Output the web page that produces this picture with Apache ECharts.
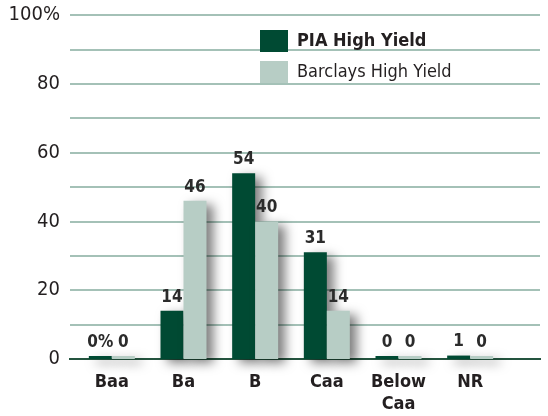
<!DOCTYPE html>
<html><head><meta charset="utf-8">
<script src="https://cdn.jsdelivr.net/npm/echarts@6/dist/echarts.min.js"></script>
<style>html,body{margin:0;padding:0;background:#fff}#c{width:548px;height:416px}</style>
</head><body><div id="c"></div>
<script>
const categories = ['Baa', 'Ba', 'B', 'Caa', 'Below\nCaa', 'NR'];
const piaValues = [0, 14, 54, 31, 0, 1];
const barclaysValues = [0, 46, 40, 14, 0, 0];
const yTicks = [0, 20, 40, 60, 80, 100];
const seriesNames = ['PIA High Yield', 'Barclays High Yield'];

const FONT = '"DejaVu Sans Condensed", "DejaVu Sans", sans-serif';
const chart = echarts.init(document.getElementById('c'));
const labelStyle = {
  show: true, position: 'top', distance: 5, fontFamily: FONT, fontWeight: 'bold',
  fontSize: 17, color: '#2b2b2b'
};
const shadow = { shadowColor: 'rgba(0,0,0,0.5)', shadowBlur: 11, shadowOffsetX: 7, shadowOffsetY: 4 };
chart.setOption({
  animation: false,
  grid: [
    { left: 70, right: 8, top: 15, bottom: 57 },
    { left: 76, right: 42, top: 15, bottom: 57 }
  ],
  legend: {
    orient: 'vertical', left: 255, top: 25, itemWidth: 28, itemHeight: 22, itemGap: 9,
    icon: 'rect', data: seriesNames,
    textStyle: { fontFamily: FONT, fontSize: 18, color: '#231f20', padding: [0, 0, 0, 4],
      rich: { b: { fontFamily: FONT, fontSize: 18, fontWeight: 'bold', color: '#231f20' } } },
    formatter: n => n === seriesNames[0] ? '{b|' + n + '}' : n
  },
  xAxis: [
    { type: 'value', gridIndex: 0, show: false, min: 0, max: 1 },
    { type: 'category', gridIndex: 1, data: categories,
      axisLine: { show: false }, axisTick: { show: false },
      axisLabel: { fontFamily: FONT, fontWeight: 'bold', fontSize: 18, color: '#231f20', margin: 12, lineHeight: 22 } }
  ],
  yAxis: [
    { type: 'value', gridIndex: 0, min: 0, max: 100, interval: 10,
      axisLine: { show: false }, axisTick: { show: false },
      splitLine: { lineStyle: { color: '#86ad9f', width: 1.5 } },
      axisLabel: { fontFamily: FONT, fontSize: 20, color: '#231f20', margin: 10,
        formatter: v => yTicks.indexOf(v) < 0 ? '' : (v === 100 ? '100%' : String(v)) } },
    { type: 'value', gridIndex: 1, min: 0, max: 100, show: false }
  ],
  series: [
    { type: 'line', xAxisIndex: 0, yAxisIndex: 0, data: [[-0.01, 0], [1.02, 0]], symbol: 'none',
      lineStyle: { color: '#24543f', width: 2 }, silent: true, z: 3, clip: false },
    { name: seriesNames[0], type: 'bar', xAxisIndex: 1, yAxisIndex: 1, data: piaValues,
      barWidth: 23, barGap: '0%', barMinHeight: 3,
      itemStyle: Object.assign({ color: '#004a33' }, shadow),
      label: Object.assign({}, labelStyle, { formatter: p => p.dataIndex === 0 ? p.value + '%' : String(p.value) }), z: 4 },
    { name: seriesNames[1], type: 'bar', xAxisIndex: 1, yAxisIndex: 1, data: barclaysValues,
      barWidth: 23, barGap: '0%', barMinHeight: 3,
      itemStyle: Object.assign({ color: '#b7cdc5' }, shadow),
      label: Object.assign({}, labelStyle), z: 4 }
  ]
});
</script></body></html>
